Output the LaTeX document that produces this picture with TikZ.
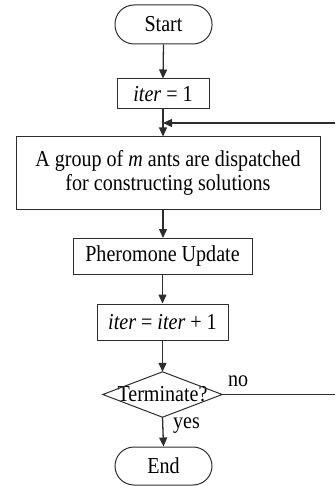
\documentclass[tikz,border=0pt]{standalone}
\usepackage{fontspec}
\setmainfont{Liberation Serif}[FakeStretch=0.88]
\usetikzlibrary{arrows.meta}
\definecolor{ln}{RGB}{45,45,45}
\begin{document}
\begin{tikzpicture}[x=1pt,y=-1pt,
  every node/.style={font=\fontsize{22.8}{24}\selectfont, text=black},
  box/.style={draw=ln, line width=1pt, inner sep=0pt, align=center},
  term/.style={box, rounded corners=19pt},
  arr/.style={draw=ln, line width=1.3pt, -{Triangle[length=9pt,width=8pt]}},
  ln/.style={draw=ln, line width=1.3pt},
  lbl/.style={inner sep=0pt, anchor=base west}]
\useasboundingbox (0,0) rectangle (335,486);
\node[term, minimum width=97pt, minimum height=39pt] (start) at (163.5,24.5) {Start};
\node[box, minimum width=92pt, minimum height=30pt] (init) at (163,94) {\textit{iter} = 1};
\node[box, minimum width=304pt, minimum height=72pt] (ants) at (168,173) {A group of \textit{m} ants are dispatched\\for constructing solutions};
\node[box, minimum width=179pt, minimum height=36pt] (pher) at (162.5,256) {Pheromone Update};
\node[box, minimum width=131pt, minimum height=36pt] (inc) at (162.5,322) {\textit{iter} = \textit{iter} + 1};
\node[inner sep=0pt, minimum width=119pt, minimum height=45pt] (dec) at (162.5,394.5) {Terminate?};
\draw[ln, line width=1pt] (dec.north) -- (dec.east) -- (dec.south) -- (dec.west) -- cycle;
\node[term, minimum width=97pt, minimum height=38pt] (end) at (163.5,466) {End};
\coordinate (j) at (163,123);
\coordinate (rtop) at (335,123);
\coordinate (rbot) at (335,394.5);
\draw[arr] (start.south) -- (init.north);
\draw[arr] (init.south) -- (init.south |- ants.north);
\draw[arr] (rtop) -- (j);
\draw[arr] (163,209) -- (163,238);
\draw[arr] (pher.south) -- (inc.north);
\draw[arr] (inc.south) -- (dec.north);
\draw[ln] (dec.east) -- (rbot);
\draw[arr] (dec.south) -- (end.north);
\node[lbl] (no) at (228,386) {no};
\node[lbl] (yes) at (173,428) {yes};
\end{tikzpicture}
\end{document}
